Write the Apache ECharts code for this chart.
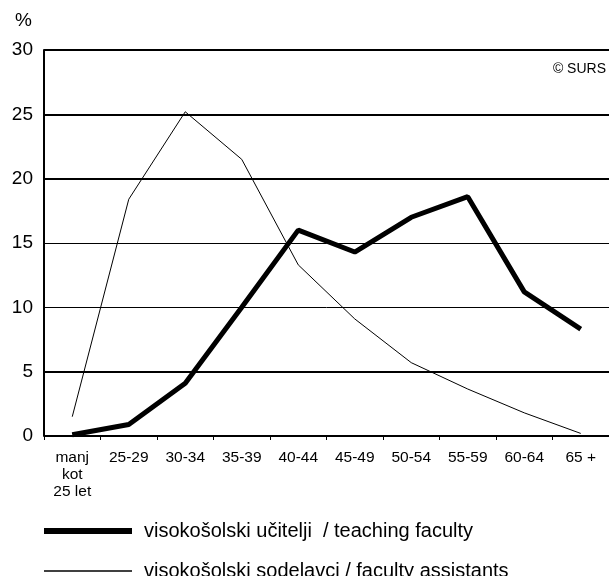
<!DOCTYPE html>
<html><head><meta charset="utf-8">
<script src="https://cdn.jsdelivr.net/npm/echarts@6/dist/echarts.min.js"></script>
<style>html,body{margin:0;padding:0;background:#fff;overflow:hidden}#c{width:609px;height:576px}</style>
</head><body><div id="c"></div>
<script>
var categories = ['manj\nkot\n25 let','25-29','30-34','35-39','40-44','45-49','50-54','55-59','60-64','65 +'];
var teaching = [0.1, 0.9, 4.1, 10.0, 16.0, 14.3, 17.0, 18.6, 11.2, 8.3];
var assistants = [1.5, 18.4, 25.2, 21.5, 13.3, 9.1, 5.7, 3.65, 1.8, 0.2];
var seriesNames = ['visokošolski učitelji  / teaching faculty', 'visokošolski sodelavci / faculty assistants'];
var yTicks = [0, 5, 10, 15, 20, 25, 30];
var thickLines = [0, 5, 20, 25, 30];

var font = 'Liberation Sans, Arial, sans-serif';
var chart = echarts.init(document.getElementById('c'));
chart.setOption({
  animation: false,
  backgroundColor: '#fff',
  textStyle: {fontFamily: font},
  grid: {left: 44, top: 50, height: 386, width: 575, containLabel: false},
  xAxis: {type: 'category', data: categories, boundaryGap: true,
     axisLine: {show: false},
     axisTick: {show: true, length: 4, lineStyle: {color: '#000', width: 1}},
     axisLabel: {color: '#000', fontSize: 15.5, fontFamily: font, margin: 13, lineHeight: 17, interval: 0}},
  yAxis: {type: 'value', min: 0, max: 30, interval: 5,
     name: '%', nameLocation: 'end', nameGap: 29,
     nameTextStyle: {color: '#000', fontSize: 19, fontFamily: font, align: 'right', verticalAlign: 'middle', padding: [0, 12, 0, 0]},
     axisLine: {show: true, lineStyle: {color: '#000', width: 2}},
     axisTick: {show: false},
     axisLabel: {color: '#000', fontSize: 19, fontFamily: font, margin: 11,
       formatter: function(v){ return yTicks.indexOf(v) >= 0 ? String(v) : ''; }},
     splitLine: {show: true, lineStyle: {color: '#000', width: 1}}},
  legend: [
    {left: 44, top: 521, padding: 0, icon: 'rect', itemWidth: 88, itemHeight: 6,
     textStyle: {color: '#000', fontSize: 20, fontFamily: font, padding: [0, 0, 0, 7]},
     data: [seriesNames[0]]},
    {left: 44, top: 561, padding: 0, icon: 'rect', itemWidth: 88, itemHeight: 1.5,
     textStyle: {color: '#000', fontSize: 20, fontFamily: font, padding: [0, 0, 0, 7]},
     data: [seriesNames[1]]}
  ],
  graphic: [{type: 'text', right: 3, top: 62,
    style: {text: '© SURS', fill: '#000', font: '14px ' + font}}],
  series: [
    {type: 'line', data: [], silent: true, z: 1,
     markLine: {symbol: 'none', silent: true, label: {show: false},
       lineStyle: {color: '#000', width: 2, type: 'solid'},
       data: thickLines.map(function(v){ return {yAxis: v}; })}},
    {name: seriesNames[0], type: 'line', data: teaching,
     symbol: 'none', lineStyle: {color: '#000', width: 5}, itemStyle: {color: '#000'}, z: 5},
    {name: seriesNames[1], type: 'line', data: assistants,
     symbol: 'none', lineStyle: {color: '#000', width: 1}, itemStyle: {color: '#000'}, z: 5}
  ]
});
</script></body></html>
